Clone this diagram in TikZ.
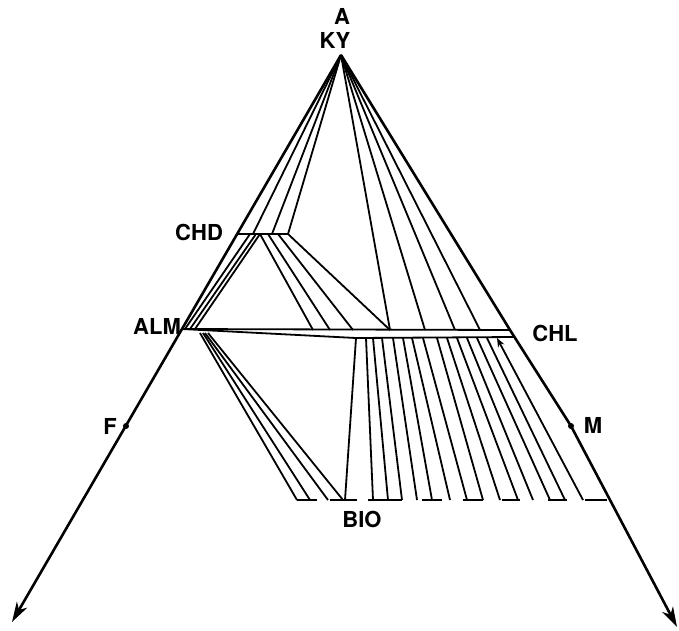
\documentclass[tikz,border=0pt]{standalone}
\usepackage{fontspec}
\setmainfont{TeX Gyre Heros}
\usetikzlibrary{arrows.meta}

\begin{document}
\begin{tikzpicture}[x=1pt, y=-1pt,
    tie/.style={line width=1.8pt},
    side/.style={line width=2.6pt},
    tip/.style={-{Stealth[length=20pt,width=12pt,inset=6pt]}},
    lbl/.style={font=\fontsize{22}{24}\selectfont\bfseries, inner sep=0pt}]
  \useasboundingbox (0,0) rectangle (679,630);
  % Eckpunkte
  \coordinate (ky) at (341,55);
  \coordinate (fend) at (12,622);
  \coordinate (chlR) at (510,330);
  \coordinate (chlRb) at (514,337);
  \coordinate (mpt) at (571,426);
  \coordinate (mend) at (677,627);
  \coordinate (fpt) at (126,426);
  \coordinate (chdL) at (237,234);
  \coordinate (chdR) at (288,234);
  \coordinate (alm) at (182,329);
  \coordinate (chlB) at (356,338);
  % Seiten
  \draw[side,tip] (ky) -- (fend);
  \draw[side] (ky) -- (chlR) -- (mpt);
  \draw[side,tip] (mpt) -- (mend);
  \fill (fpt) circle (3pt);
  \fill (mpt) circle (3pt);
  % Phasen
  \draw[tie] (chdL) -- (chdR);
  \draw[tie] (alm) -- (chlR);
  \draw[tie] (alm) -- (chlB) -- (chlRb);
  \foreach \a/\b in {297/317,330/357,368/402,422/442,463/483,502/520,548/567,585/607}
    \draw[tie] (\a,500) -- (\b,500);
  % Konoden von KY
  \foreach \x in {253,272} \draw[tie] (ky) -- (\x,234);
  \draw[tie] (ky) -- (chdR);
  \foreach \x in {390,425,455,480} \draw[tie] (ky) -- (\x,330);
  % Konoden von CHD
  \foreach \a/\b in {250/185,256/190,260/195} \draw[tie] (\a,234) -- (\b,329);
  \foreach \a/\b in {260/313,268/330,278/353} \draw[tie] (\a,234) -- (\b,330);
  \draw[tie] (chdR) -- (390,330);
  % Konoden von ALM
  \foreach \a/\b in {200/297,203/310,205/328,208/343} \draw[tie] (\a,333) -- (\b,500);
  % Konoden von CHL nach BIO
  \foreach \t/\b in {356/345,366/373,373/388,382/402,393/417,403/432,412/450,423/467,437/483,447/500,457/518,467/533,477/550,487/565}
    \draw[tie] (\t,338) -- (\b,500);
  \draw[tie,-{Stealth[length=9pt,width=7pt]}] (583,500) -- (497,338);
  % Beschriftung
  \node[lbl] (alab) at (342,16) {A};
  \node[lbl] (kylab) at (335,40) {KY};
  \node[lbl] (chdlab) at (199,232) {CHD};
  \node[lbl] (almlab) at (157,326) {ALM};
  \node[lbl] (chllab) at (555,333) {CHL};
  \node[lbl] (flab) at (110,426) {F};
  \node[lbl] (mlab) at (593,425) {M};
  \node[lbl] (biolab) at (362,519) {BIO};
\end{tikzpicture}
\end{document}
